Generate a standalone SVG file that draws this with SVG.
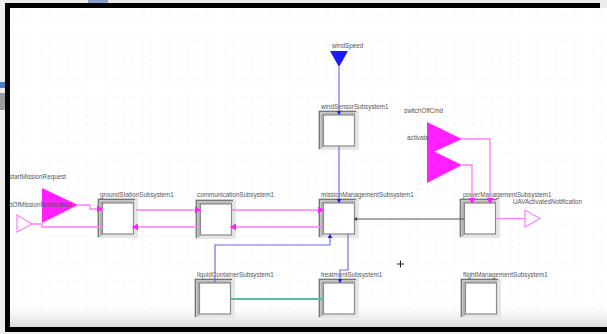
<svg xmlns="http://www.w3.org/2000/svg" xmlns:xlink="http://www.w3.org/1999/xlink" width="607" height="334" viewBox="0 0 607 334">
<style>
.lbl{font-family:"Liberation Sans",Arial,sans-serif;font-size:6.3px;fill:#555}
.pk{fill:none;stroke:#ff7dff;stroke-width:1.3}
.bl{fill:none;stroke:#6f6ff0;stroke-width:1.2}
.dk{fill:none;stroke:#555;stroke-width:1}
.tl{fill:none;stroke:#5cb8a8;stroke-width:2}
.inp{fill:#ff1fff}
.outp{fill:none;stroke:#ff7dff;stroke-width:1.2}
</style>
<defs>
<pattern id="grid" x="3" y="4" width="9.2" height="9.2" patternUnits="userSpaceOnUse">
<circle cx="1" cy="1" r="0.6" fill="#d9d9d9"/>
</pattern>
<linearGradient id="fade" x1="0" y1="0" x2="0" y2="1">
<stop offset="0" stop-color="#ffffff" stop-opacity="0"/>
<stop offset="1" stop-color="#dcdcdc"/>
</linearGradient>
<marker id="ap" markerUnits="userSpaceOnUse" markerWidth="7" markerHeight="7" refX="6" refY="3.5" orient="auto">
<path d="M0,0 L6,3.5 L0,7 z" fill="#ff1fff"/>
</marker>
<marker id="ab" markerUnits="userSpaceOnUse" markerWidth="5" markerHeight="5" refX="4" refY="2.5" orient="auto">
<path d="M0,0 L4,2.5 L0,5 z" fill="#2222ee"/>
</marker>
<marker id="ad" markerUnits="userSpaceOnUse" markerWidth="4" markerHeight="4" refX="3" refY="2" orient="auto">
<path d="M0,0 L3,2 L0,4 z" fill="#444"/>
</marker>
<symbol id="blk" overflow="visible">
<rect x="0" y="0" width="41" height="40" fill="#e6e6e6"/>
<path d="M1.5 39 V1.5 H38" fill="none" stroke="#777" stroke-width="1.5"/>
<path d="M4 38 V4 H37" fill="none" stroke="#888" stroke-width="1.1"/>
<rect x="5.5" y="5" width="31" height="31" fill="#fff" stroke="#8a8a8a" stroke-width="1.2"/>
</symbol>
</defs>

<rect x="0" y="0" width="607" height="334" fill="#ececec"/>
<rect x="10" y="8" width="597" height="319" fill="#fff"/>
<rect x="10" y="8" width="597" height="319" fill="url(#grid)"/>
<rect x="10" y="300" width="597" height="27" fill="url(#fade)"/>
<rect x="0" y="82" width="5" height="6" fill="#4a7fc0"/>
<rect x="0" y="93" width="5" height="17" fill="#9a9a9a"/>
<rect x="88" y="0" width="20" height="3" fill="#8aa0c8"/>
<path d="M5 5.5 H600 M7.5 3 V332 M5 329.5 H607" fill="none" stroke="#000" stroke-width="5"/>

<g id="startMissionRequest">
<polygon class="inp" points="42,188 42,223 78,205"/>
<text class="lbl" x="9" y="179">startMissionRequest</text>
</g>
<g id="endOfMissionNotification">
<polygon class="outp" points="17,215 17,232 32,224"/>
<text class="lbl" x="9" y="207">dOfMissionNotification</text>
</g>
<g id="windSpeed">
<polygon points="330,51 348,51 339,67" fill="#1a1aff"/>
<text class="lbl" x="332" y="48">windSpeed</text>
</g>
<g id="switchOffCmd">
<polygon class="inp" points="427,122 427,155 462,139"/>
<text class="lbl" x="404" y="113">switchOffCmd</text>
</g>
<g id="activate">
<polygon class="inp" points="427,148 427,183 462,165"/>
<text class="lbl" x="407" y="140">activate</text>
</g>
<g id="UAVActivatedNotification">
<polygon class="outp" points="525,210 525,227 540,218.5"/>
<text class="lbl" x="513" y="204">UAVActivatedNotification</text>
</g>

<g id="groundStationSubsystem1">
<use xlink:href="#blk" x="97" y="198"/>
<text class="lbl" x="100" y="197">groundStationSubsystem1</text>
</g>
<g id="communicationSubsystem1">
<use xlink:href="#blk" x="195" y="199"/>
<text class="lbl" x="197" y="197">communicationSubsystem1</text>
</g>
<g id="missionManagementSubsystem1">
<use xlink:href="#blk" x="318" y="198"/>
<text class="lbl" x="321" y="197">missionManagementSubsystem1</text>
</g>
<g id="windSensorSubsystem1">
<use xlink:href="#blk" x="318" y="110"/>
<text class="lbl" x="321" y="109">windSensorSubsystem1</text>
</g>
<g id="powerManagementSubsystem1">
<use xlink:href="#blk" x="459" y="198"/>
<text class="lbl" x="463" y="197">powerManagementSubsystem1</text>
</g>
<g id="liquidContainerSubsystem1">
<use xlink:href="#blk" x="194" y="278"/>
<text class="lbl" x="197" y="277">liquidContainerSubsystem1</text>
</g>
<g id="treatmentSubsystem1">
<use xlink:href="#blk" x="318" y="278"/>
<text class="lbl" x="321" y="277">treatmentSubsystem1</text>
</g>
<g id="flightManagementSubsystem1">
<use xlink:href="#blk" x="460" y="278"/>
<text class="lbl" x="463" y="277">flightManagementSubsystem1</text>
</g>

<g id="connectors">
<polyline class="pk" points="78,205 90,205 90,209 103,209" marker-end="url(#ap)"/>
<line class="pk" x1="136" y1="210" x2="201" y2="210" marker-end="url(#ap)"/>
<line class="pk" x1="232" y1="210" x2="324" y2="210" marker-end="url(#ap)"/>
<line class="pk" x1="323" y1="227" x2="230" y2="227" marker-end="url(#ap)"/>
<line class="pk" x1="200" y1="227" x2="132" y2="227" marker-end="url(#ap)"/>
<polyline class="pk" points="103,227 42,227 42,224 32,224"/>
<polyline class="pk" points="462,139 490,139 490,204" marker-end="url(#ap)"/>
<polyline class="pk" points="462,165 472,165 472,204" marker-end="url(#ap)"/>
<line class="pk" x1="496" y1="218.5" x2="525" y2="218.5"/>
<line class="bl" x1="339" y1="67" x2="339" y2="115" marker-end="url(#ab)"/>
<line class="bl" x1="339" y1="146" x2="339" y2="203" marker-end="url(#ab)"/>
<polyline class="bl" points="215,283 215,245 330,245 330,234" marker-end="url(#ab)"/>
<polyline class="bl" points="348,234 348,270 340,270 340,283" marker-end="url(#ab)"/>
<line class="tl" x1="231" y1="299" x2="324" y2="299"/>
<line class="dk" x1="464" y1="219" x2="354" y2="219" marker-end="url(#ad)"/>
</g>

<path d="M397 264 H404 M400.5 260.5 V267.5" stroke="#222" stroke-width="1" fill="none"/>
</svg>
